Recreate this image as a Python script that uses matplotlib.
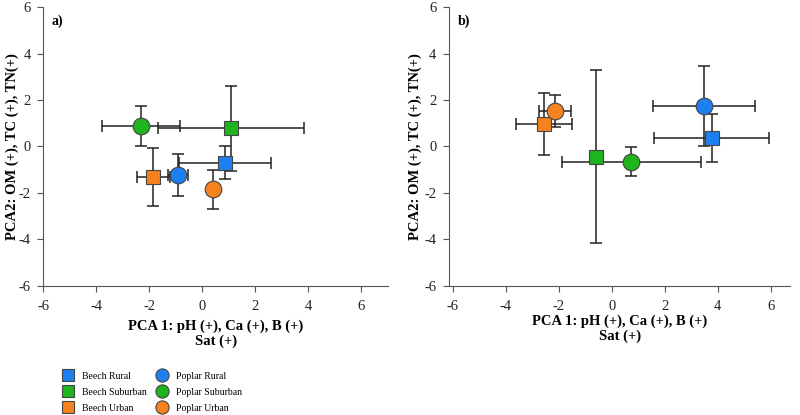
import numpy as np
import matplotlib.pyplot as plt

plt.rcParams['font.family'] = ['Liberation Serif', 'DejaVu Serif']
plt.rcParams['axes.unicode_minus'] = False

groups = ['Beech Rural', 'Beech Suburban', 'Beech Urban',
          'Poplar Rural', 'Poplar Suburban', 'Poplar Urban']
colors = ['#1e80f0', '#1db41d', '#f5821f', '#1e80f0', '#1db41d', '#f5821f']
markers = ['s', 's', 's', 'o', 'o', 'o']

# panel a)
xa = [0.84, 1.08, -1.85, -0.93, -2.33, 0.40]
ya = [-0.70, 0.78, -1.30, -1.23, 0.88, -1.83]
xea = [1.73, 2.75, 0.63, 0.38, 1.47, 0.0]
yea = [0.70, 1.83, 1.25, 0.89, 0.87, 0.84]

# panel b)
xb = [3.78, -0.61, -2.56, 3.50, 0.74, -2.13]
yb = [0.38, -0.44, 0.97, 1.74, -0.65, 1.53]
xeb = [2.18, 0.0, 1.05, 1.93, 2.62, 0.60]
yeb = [1.03, 3.72, 1.35, 1.74, 0.63, 0.69]

fig = plt.figure(figsize=(8, 4.15), dpi=100)
ax1 = fig.add_axes([0.054, 0.311, 0.431, 0.672])
ax2 = fig.add_axes([0.561, 0.311, 0.427, 0.672])

def draw(ax, x, y, xe, ye, tag, xlim, pad, ypad):
    for i in range(len(groups)):
        ax.errorbar(x[i], y[i], xerr=xe[i], yerr=ye[i], fmt='none',
                    ecolor='#222222', elinewidth=1.1, capsize=4, capthick=1.1, zorder=2)
        ms = 9.5 if markers[i] == 's' else 12
        ax.plot(x[i], y[i], marker=markers[i], ms=ms, color=colors[i],
                mec='#444444', mew=0.8, ls='none', zorder=3)
    ax.set_xlim(*xlim)
    ax.set_ylim(-6, 6)
    ax.set_xticks(np.arange(-6, 7, 2))
    ax.set_yticks(np.arange(-6, 7, 2))
    for s in ['top', 'right']:
        ax.spines[s].set_visible(False)
    for s in ['left', 'bottom']:
        ax.spines[s].set_color('#555555')
    ax.tick_params(direction='out', length=4, color='#555555', labelsize=10.5,
                   labelcolor='#222222')
    ax.tick_params(axis='x', pad=6)
    ax.tick_params(axis='y', pad=5)
    ax.set_ylabel('PCA2: OM (+), TC (+), TN(+)', fontsize=10.5, fontweight='bold',
                  labelpad=ypad)
    ax.set_xlabel('PCA 1: pH (+), Ca (+), B (+)\nSat (+)', fontsize=10.5,
                  fontweight='bold', labelpad=pad, linespacing=1.15)
    ax.text(0.025, 0.975, tag, transform=ax.transAxes, fontsize=10,
            fontweight='bold', va='top', ha='left')

draw(ax1, xa, ya, xea, yea, 'a)', (-6, 7), 5, 0)
draw(ax2, xb, yb, xeb, yeb, 'b)', (-6.15, 6.75), 1, 2)

lh = []
for i in range(len(groups)):
    ms = 8 if markers[i] == 's' else 9.5
    h, = ax1.plot([], [], marker=markers[i], ms=ms, color=colors[i],
                  mec='#444444', mew=0.8, ls='none', label=groups[i])
    lh.append(h)
fig.legend(handles=lh, loc='upper left', bbox_to_anchor=(0.077, 0.104), ncol=2,
           frameon=False, fontsize=7, handlelength=1.3, handletextpad=0.8,
           columnspacing=0.95, labelspacing=0.72, borderaxespad=0, borderpad=0)

fig.savefig('out.png', dpi=100)
